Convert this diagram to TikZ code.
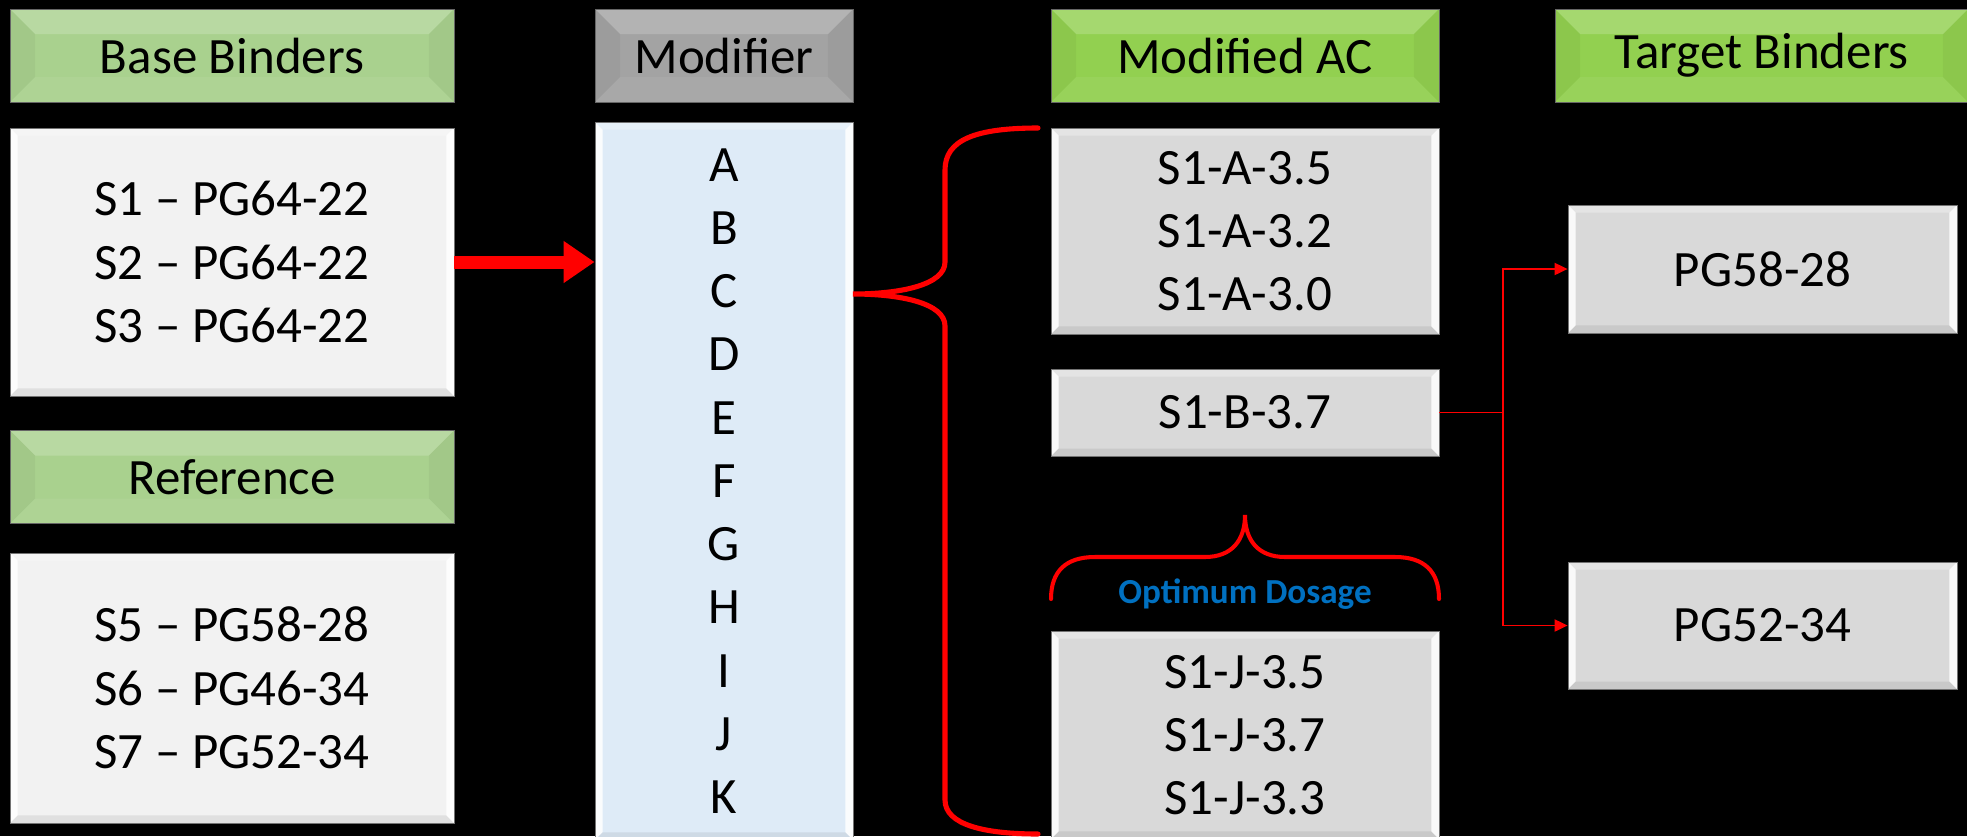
\documentclass[tikz,border=0pt]{standalone}
\usepackage{fontspec}
\setmainfont{Carlito}
\usepackage{xcolor}
\usepackage{tikz}
\usetikzlibrary{arrows.meta}

\definecolor{hdrgreen}{HTML}{A9D18E}
\definecolor{hdrlime}{HTML}{92D050}
\definecolor{hdrgray}{HTML}{A3A3A3}
\definecolor{boxlight}{HTML}{F2F2F2}
\definecolor{boxblue}{HTML}{DEEBF7}
\definecolor{boxgray}{HTML}{D9D9D9}
\definecolor{optblue}{HTML}{0070C0}

\begin{document}
\begin{tikzpicture}
	[x=0.02cm, y=-0.02cm,
	bevel/.style n args={4}{path picture={
		\coordinate (bNW) at (path picture bounding box.north west);
		\coordinate (bNE) at (path picture bounding box.north east);
		\coordinate (bSW) at (path picture bounding box.south west);
		\coordinate (bSE) at (path picture bounding box.south east);
		\fill[#2] (bNW) -- (bNE) -- ([xshift=-#1,yshift=-#1]bNE) -- ([xshift=#1,yshift=-#1]bNW) -- cycle;
		\fill[#3] (bNW) -- ([xshift=#1,yshift=-#1]bNW) -- ([xshift=#1,yshift=#1]bSW) -- (bSW) -- cycle;
		\fill[#3] (bNE) -- ([xshift=-#1,yshift=-#1]bNE) -- ([xshift=-#1,yshift=#1]bSE) -- (bSE) -- cycle;
		\fill[#4] (bSW) -- ([xshift=#1,yshift=#1]bSW) -- ([xshift=-#1,yshift=#1]bSE) -- (bSE) -- cycle;
	}},
	hdr/.style={draw=black!60, line width=0.5pt, inner sep=0pt, minimum height=1.86cm,
		font=\fontsize{29}{36}\selectfont,
		bevel={0.5cm}{white,opacity=0.18}{black,opacity=0.04}{white,opacity=0.06}},
	binbox/.style={draw=black!55, line width=0.5pt, inner sep=0pt, align=center,
		font=\fontsize{29}{36}\selectfont,
		bevel={0.15cm}{white,opacity=0.3}{white,opacity=0.85}{black,opacity=0.07}},
	brace/.style={red, line cap=round},
	link/.style={red, line width=1.1pt, -{Triangle[length=0.26cm,width=0.24cm]}}]

	\useasboundingbox (0,0) rectangle (1967,836);
	\fill[black] (0,0) rectangle (1967,836);

	\node[hdr, fill=hdrgreen, minimum width=8.88cm] (basehdr) at (232,55.5) {Base Binders};
	\node[binbox, fill=boxlight, minimum width=8.88cm, minimum height=5.36cm] (basebox) at (232,262)
		{S1 – PG64-22\\S2 – PG64-22\\S3 – PG64-22};
	\node[hdr, fill=hdrgreen, minimum width=8.88cm] (refhdr) at (232,477) {Reference};
	\node[binbox, fill=boxlight, minimum width=8.88cm, minimum height=5.4cm] (refbox) at (232,688)
		{S5 – PG58-28\\S6 – PG46-34\\S7 – PG52-34};

	\node[hdr, fill=hdrgray, minimum width=5.16cm] (modhdr) at (724,55.5) {Modifier};
	\node[binbox, fill=boxblue, minimum width=5.16cm, minimum height=14.36cm] (modbox) at (724,481)
		{A\\B\\C\\D\\E\\F\\G\\H\\I\\J\\K};

	\node[hdr, fill=hdrlime, minimum width=7.76cm] (machdr) at (1245,55.5) {Modified AC};
	\node[binbox, fill=boxgray, minimum width=7.76cm, minimum height=4.12cm] (maca) at (1245,231)
		{S1-A-3.5\\S1-A-3.2\\S1-A-3.0};
	\node[binbox, fill=boxgray, minimum width=7.76cm, minimum height=1.74cm] (macb) at (1245,412.5) {S1-B-3.7};
	\node[binbox, fill=boxgray, minimum width=7.76cm, minimum height=4.16cm] (macj) at (1245,735)
		{S1-J-3.5\\S1-J-3.7\\S1-J-3.3};

	\node[hdr, fill=hdrlime, minimum width=8.26cm] (tgthdr) at (1761.5,55.5) {Target Binders};
	\node[binbox, fill=boxgray, minimum width=7.78cm, minimum height=2.56cm] (tgta) at (1762.5,269) {PG58-28};
	\node[binbox, fill=boxgray, minimum width=7.78cm, minimum height=2.54cm] (tgtb) at (1762.5,625.5) {PG52-34};

	\node[font=\bfseries\fontsize{20}{24}\selectfont, text=optblue, anchor=base] (optlbl) at (1245,603) {Optimum Dosage};

	\draw[red, line width=0.26cm, -{Triangle[length=0.62cm,width=0.8cm]}] (basebox.east) -- (modbox.west |- basebox.east);

	\draw[brace, line width=2.9pt] (1038,128) .. controls (975,128) and (945,140) .. (945,170) -- (945,262)
		.. controls (945,285) and (900,294) .. (853,294)
		.. controls (900,294) and (945,303) .. (945,326) -- (945,800)
		.. controls (945,825) and (985,834) .. (1038,834);

	\draw[brace, line width=2.3pt] (1051,599) .. controls (1051,572) and (1065,557) .. (1095,557) -- (1205,557)
		.. controls (1232,557) and (1245,540) .. (1245,515)
		.. controls (1245,540) and (1258,557) .. (1285,557) -- (1395,557)
		.. controls (1425,557) and (1439,572) .. (1439,599);

	\draw[link] (macb.east) -- ++(64,0) |- (tgta.west);
	\draw[link] (macb.east) -- ++(64,0) |- (tgtb.west);

\end{tikzpicture}
\end{document}
